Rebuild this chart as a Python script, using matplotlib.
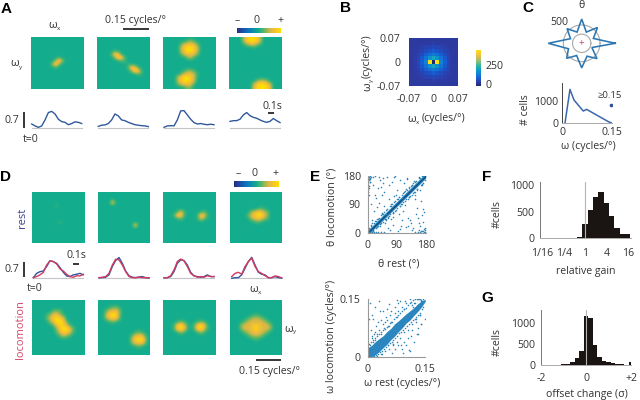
import numpy as np
import matplotlib
matplotlib.use("Agg")
import matplotlib.pyplot as plt
from matplotlib.lines import Line2D
from matplotlib.colors import LinearSegmentedColormap, Normalize
from matplotlib.cm import ScalarMappable

plt.rcParams['font.family'] = ['Open Sans', 'DejaVu Sans']
plt.rcParams['font.size'] = 7.6
plt.rcParams['text.color'] = '#333333'
plt.rcParams['xtick.color'] = '#333333'
plt.rcParams['ytick.color'] = '#333333'

# ---------- data ----------
A1 = ["0"*16]*6 + ["0000000010000000", "0000000393000000", "0000003920000000", "0000000100000000"] + ["0"*16]*6
A2 = ["0"*16]*4 + ["0000010000000000", "0000286000000000", "0000039710000000", "0000000210000000",
      "0000000001000000", "0000000002861000", "0000000000397100", "0000000000002100"] + ["0"*16]*4
A3 = ["0"*16, "0000000231000000", "0000025665200000", "0000047997400000", "0000047997400000",
      "0000025665200000", "0000000341000000"] + ["0"*16]*3 + ["0000001331000000", "0000025664100000",
      "0000479974000000", "0000479974000000", "0000256651000000", "0000001320000000"]
A4 = ["0000479974000000", "0000489984000000", "0000135531000000", "0000000100000000"] + ["0"*16]*9 + [
      "0000000024420000", "0000000479974000", "0000000589985000"]
R1 = ["0"*16]*4 + ["0000000100000000"] + ["0"*16]*4 + ["0000000010000000"] + ["0"*16]*6
R2 = ["0"*16]*3 + ["0000700000000000"] + ["0"*16]*6 + ["0000000000070000"] + ["0"*16]*5
R3 = ["0"*16]*6 + ["0000261000012000", "0002871000186100", "0000120000152000"] + ["0"*16]*7
R4 = ["0"*16]*5 + ["0000000012100000", "0000003577430000", "0000025799630000",
      "0000003566320000", "0000000121000000"] + ["0"*16]*6
L1 = ["0"*16]*3 + ["0000002320000000", "0000136631000000", "0000257985000000", "0000036997200000",
      "0000002688510000", "0000000379962000", "0000000258751000", "0000000024310000",
      "0000000000000000"] + ["0"*16]*4
L2 = ["0"*16]*2 + ["0001231000000000", "0025664000000000", "0048993000000000", "0036773000000000",
      "0001210000000000"] + ["0"*16]*2 + ["0000000000012100", "0000000000256620", "0000000000489940",
      "0000000000366730", "0000000000012100"] + ["0"*16]*2
L3 = ["0"*16]*6 + ["0000121000121000", "0002795102796100", "0002896102895100", "0000131000131000"] + ["0"*16]*6
L4 = ["0"*16]*4 + ["0000000110000000", "0000013443100000", "0000245555420000", "0003556776553000",
      "0003556886553000", "0000245665420000", "0000013443100000", "0000000110000000"] + ["0"*16]*4

time_s = [0, .05, .1, .15, .2, .25, .3, .35, .4, .45, .5, .55, .6, .65, .7, .75]
trace_A1 = [.18, .10, .04, .10, .35, .66, .71, .60, .38, .28, .25, .15, .20, .27, .25, .20]
trace_A2 = [.08, .13, .14, .20, .35, .60, .52, .35, .32, .25, .20, .15, .13, .11, .10, .07]
trace_A3 = [.04, .10, .11, .10, .35, .73, .74, .56, .38, .24, .18, .20, .17, .15, .17, .15]
trace_A4 = [.29, .32, .32, .38, .56, .66, .53, .46, .42, .35, .29, .25, .29, .41, .32, .24]
rest_D1 = [.03, .23, .31, .34, .55, .82, .78, .70, .50, .28, .11, .08, .16, .19, .23, .16]
loco_D1 = [.03, .08, .16, .28, .62, .81, .78, .67, .44, .34, .19, .08, .05, .12, .11, .19]
rest_D2 = [.02, .03, .05, .16, .55, .83, .97, .70, .34, .12, .05, .03, .06, .08, .03, .02]
loco_D2 = [.03, .05, .08, .23, .62, .89, .86, .62, .31, .08, .03, .03, .05, .03, .03, .02]
rest_D3 = [.02, .03, .08, .31, .70, .86, .83, .62, .28, .11, .08, .05, .08, .16, .08, .08]
loco_D3 = [.02, .03, .12, .39, .78, .90, .81, .55, .23, .12, .05, .08, .05, .12, .08, .08]
rest_D4 = [.00, .03, .03, .16, .47, .78, .98, .62, .28, .19, .16, .03, .03, .08, .03, .02]
loco_D4 = [.08, .23, .28, .19, .55, .78, .94, .55, .31, .23, .12, .03, .03, .11, .08, .02]

density_half = [
    [45, 45, 45, 45, 45, 45, 45, 45, 45, 45, 45, 45, 45],
    [45, 45, 48, 48, 50, 50, 55, 50, 50, 48, 48, 45, 45],
    [45, 48, 50, 55, 60, 65, 70, 65, 60, 55, 50, 48, 45],
    [45, 50, 55, 62, 75, 85, 95, 85, 75, 62, 55, 50, 45],
    [45, 50, 60, 75, 100, 125, 140, 125, 100, 75, 60, 50, 45],
    [45, 52, 65, 90, 130, 175, 215, 175, 130, 90, 65, 52, 45],
    [45, 52, 68, 100, 150, 440, 5, 440, 150, 100, 68, 52, 45],
]
density = density_half + density_half[-2::-1]

star_deg = [0, 22.5, 45, 67.5, 90, 112.5, 135, 157.5, 180, 202.5, 225, 247.5, 270, 292.5, 315, 337.5, 360]
star_n = [915, 345, 610, 330, 660, 330, 565, 330, 910, 390, 580, 360, 670, 380, 590, 300, 915]

omega_x = [.008, .023, .035, .063, .073, .103, .138, .15]
omega_n = [0, 1520, 1045, 550, 625, 370, 75, 0]

theta_rest = [8,15,22,31,38,46,52,60,67,74,83,91,99,106,113,121,128,137,144,152,160,168,175,
              3,11,19,27,34,43,50,58,65,72,80,88,96,104,111,119,126,135,142,150,158,166,173,
              6,13,24,36,41,55,63,77,86,94,101,116,124,131,139,147,155,163,171,178,
              2,17,29,48,69,82,108,123,146,161,176,
              10,18,25,30,35,42,48,53,58,64,70,75,80,86,92,98,103,110,115,122,128,134,140,146,152,158,164,170,
              14,22,33,44,56,68,79,90,101,112,124,136,148,160,172,
              1,2,3,1,4,2,5,3,1,6,2,8,4,7,10,
              176,170,162,155,177,148,172,178,165,4,8,14,20,26,32,40,50,
              5,9,16,20,27,32,38,41,47,51,57,61,66,71,77,83,88,94,99,105,109,117,120,127,131,138,143,149,154,161,167,173,177,
              12,28,37,45,62,73,84,97,107,118,129,141,153,168]
theta_loco = [170,152,178,140,165,172,128,175,150,160,176,135,168,110,158,172,145,120,163,78,30,55,12,
              148,92,68,110,175,120,85,60,105,42,25,120,60,22,70,18,48,30,15,60,8,100,35,
              160,40,118,95,145,30,15,50,178,5,12,88,22,40,10,118,48,20,75,3,
              130,175,80,158,8,115,40,170,105,135,65,
              24,8,36,18,48,30,60,42,72,50,58,90,66,100,78,112,90,124,100,136,114,148,126,160,138,172,150,178,
              2,38,20,58,40,84,62,106,84,128,106,152,130,176,156,
              178,172,165,158,176,150,170,142,135,178,128,174,118,160,176,
              2,4,1,3,8,2,6,15,5,1,2,1,3,1,2,1,2,
              14,22,5,32,14,44,26,55,33,66,42,75,52,84,62,97,72,108,83,118,96,131,106,141,115,151,128,163,139,174,153,179,165,
              30,44,22,62,47,92,69,114,92,137,112,158,136,152]
theta_band_x = [0, 180]
theta_band_lo = [-8, 172]
theta_band_hi = [8, 188]
theta_core_lo = [-3, 177]
theta_core_hi = [3, 183]

omega_rest = [.005,.012,.018,.022,.03,.035,.04,.048,.055,.06,.07,.075,.085,.09,.1,.11,.12,.13,.14,.148,
              .008,.015,.025,.032,.045,.052,.065,.08,.095,.105,.115,.125,.135,.145,
              .01,.02,.028,.038,.05,.062,.072,.088,.098,.108,.118,.128,.138,
              .003,.006,.016,.042,.058,.078,.092,.112,.122,.132,.142,
              .01,.02,.03,.04,.05,.06,.07,.08,.09,.1,.11,.12,.13,.14,.145,
              .015,.025,.035,.045,.055,.065,.075,.085,.095,.105,.115,.125,.135,
              .015,.035,.055,.075,.095,.115,.135,
              .004,.007,.009,.012,.014,.017,.019,.022,.024,.027,.029,.032,.034,.037,.039,.042,.044,.047,.049,
              .052,.054,.057,.059,.062,.064,.067,.069,.072,.074,.077,.079,.082,.084,.087,.089,.092,.094,.097,.099,
              .102,.104,.107,.109,.112,.114,.117,.119,.122,.124,.127,.129,.132,.134,.137,.139,.142]
omega_loco = [.14,.11,.13,.08,.145,.095,.12,.105,.138,.12,.13,.148,.145,.02,.03,.015,.04,.06,.085,.1,
              .07,.1,.06,.12,.09,.03,.035,.14,.04,.05,.07,.09,.11,.13,
              .05,.045,.09,.008,.125,.01,.02,.03,.145,.018,.13,.06,.085,
              .1,.03,.06,.075,.11,.03,.01,.055,.14,.075,.145,
              .055,.065,.07,.085,.095,.09,.115,.12,.13,.14,.15,.14,.15,.145,.15,
              .0,.002,.008,.015,.022,.03,.04,.05,.065,.07,.085,.098,.11,
              .04,.065,.08,.105,.125,.135,.15,
              .035,.003,.04,.0,.045,.003,.05,.006,.055,.009,.06,.012,.06,.015,.07,.02,.072,.027,.078,
              .03,.08,.036,.088,.04,.09,.045,.1,.05,.103,.055,.108,.062,.115,.065,.12,.07,.125,.075,.128,
              .08,.135,.085,.14,.09,.142,.095,.148,.1,.15,.105,.15,.11,.15,.115,.148,.125]
omega_band_x = [0, .01, .02, .03, .04, .05, .06, .07, .08, .09, .1, .11, .12, .13, .14, .15]
omega_band_lo = [0, 0, .006, .014, .024, .033, .045, .054, .066, .076, .088, .096, .108, .118, .13, .145]
omega_band_hi = [.024, .03, .04, .048, .055, .066, .074, .086, .094, .103, .112, .12, .128, .138, .146, .15]

gain_bins = [-4, -3.5, -3, -2.5, -2, -1.5, -1, -.5, 0, .5, 1, 1.5, 2, 2.5, 3, 3.5, 4]
gain_counts = [6, 6, 6, 6, 6, 8, 10, 30, 260, 530, 780, 860, 670, 420, 190, 90, 75]
gain_ticks = [-4, -2, 0, 2, 4]
gain_labels = ['1/16', '1/4', '1', '4', '16']

offset_bins = [-2, -1.8, -1.6, -1.4, -1.2, -1, -.8, -.6, -.4, -.2, 0, .2, .4, .6, .8, 1, 1.2, 1.4, 1.6, 1.8, 2]
offset_counts = [5, 5, 5, 5, 10, 15, 25, 60, 160, 320, 1170, 1100, 480, 200, 100, 70, 40, 25, 15, 10, 75]

# ---------- layout helpers ----------
W, H = 640, 400
fig = plt.figure(figsize=(6.4, 4.0), dpi=100, facecolor='white')

def axpx(x0, y0, x1, y1, **kw):
    return fig.add_axes([x0 / W, 1 - y1 / H, (x1 - x0) / W, (y1 - y0) / H], **kw)

def T(x, y, s, ha='center', va='center', **kw):
    return fig.text(x / W, 1 - y / H, s, ha=ha, va=va, **kw)

def L(x0, y0, x1, y1, color='black', lw=1.1):
    fig.add_artist(Line2D([x0 / W, x1 / W], [1 - y0 / H, 1 - y1 / H], color=color, lw=lw,
                          solid_capstyle='butt'))

def sub(x, y, sym, s):
    T(x, y, sym, fontsize=8)
    T(x + 5.5, y + 3, s, fontsize=4.5)

def letter(x, y, s):
    T(x, y, s, ha='left', fontsize=11, fontweight='bold', family=['Liberation Sans'], color='black')

cmap_map = LinearSegmentedColormap.from_list('map', [
    (0, '#2b2a85'), (.25, '#0a70c0'), (.5, '#12ad8e'), (.62, '#62b763'),
    (.75, '#d2b848'), (.85, '#f2bf35'), (1, '#ffe000')])
map_norm = Normalize(-1, 1)
parula = LinearSegmentedColormap.from_list('parula', [
    '#1c2a70', '#2f3ba5', '#1560d8', '#1282d4', '#0aa2c8', '#2eb7a4', '#87bf77', '#d1bb59', '#fec832', '#f9e80e'])

def heat(rows, x0, y0, x1, y1):
    ax = axpx(x0, y0, x1, y1)
    arr = np.array([[int(c) / 9 for c in r] for r in rows])
    ax.imshow(arr, cmap=cmap_map, norm=map_norm, interpolation='bicubic', aspect='auto')
    ax.axis('off')

def cbar(x0, y0, x1, y1, cmap, norm, orient):
    cax = axpx(x0, y0, x1, y1)
    cb = fig.colorbar(ScalarMappable(norm=norm, cmap=cmap), cax=cax, orientation=orient)
    cb.set_ticks([])
    cb.outline.set_visible(False)

def trace(x0, base_y, h_scale, vmax_px, series):
    ax = axpx(x0, base_y - vmax_px, x0 + 50, base_y)
    ax.set_xlim(0, .75)
    ax.set_ylim(0, vmax_px / h_scale * .7)
    ax.axhline(0, color='#c4c4c8', lw=.8, clip_on=False)
    for vals, col in series:
        ax.plot(time_s, vals, color=col, lw=1.0, solid_joinstyle='round', clip_on=False)
    ax.axis('off')

BLUE, RED = '#30589c', '#d23a60'

# ---------- A ----------
letter(1, 9, 'A')
for rows, (x0, x1) in zip([A1, A2, A3, A4], [(30.5, 83), (97, 149.5), (162.5, 215), (229, 281.5)]):
    heat(rows, x0, 37, x1, 89.5)
sub(53, 26, 'ω', 'x')
sub(15, 64, 'ω', 'y')
T(135.7, 20, '0.15 cycles/°')
L(123.3, 29.3, 149, 29.3)
cbar(236.7, 27.7, 281, 33.3, cmap_map, map_norm, 'horizontal')
T(237, 20.7, '–'); T(257, 20.7, '0'); T(280.7, 20.7, '+')
for x0, vals in zip([31.7, 98.3, 164, 230], [trace_A1, trace_A2, trace_A3, trace_A4]):
    trace(x0, 128.3, 16.7, 28, [(vals, BLUE)])
T(11.7, 120.7, '0.7')
L(24, 111.7, 24, 128.3)
T(30.7, 140, 't=0')
T(272.7, 106.7, '0.1s')
L(267.7, 113.3, 274.3, 113.3)

# ---------- D ----------
letter(0, 177, 'D')
letter(310, 177, 'E')
xs_D = [(31.5, 84), (98, 150), (163, 215.5), (229.5, 281.5)]
for rows, (x0, x1) in zip([R1, R2, R3, R4], xs_D):
    heat(rows, x0, 191.7, x1, 243.3)
for rows, (x0, x1) in zip([L1, L2, L3, L4], xs_D):
    heat(rows, x0, 300, x1, 355)
cbar(234.3, 180.7, 278.7, 186.7, cmap_map, map_norm, 'horizontal')
T(238.3, 173.3, '–'); T(255, 173.3, '0'); T(275.7, 173.3, '+')
T(22.7, 218.3, 'rest', rotation=90, color='#3c3f8f', fontsize=8)
T(20.7, 329.3, 'locomotion', rotation=90, color='#d6476b', fontsize=8)
for x0, r, l in zip([33.3, 99, 164, 231.7], [rest_D1, rest_D2, rest_D3, rest_D4],
                    [loco_D1, loco_D2, loco_D3, loco_D4]):
    trace(x0, 278.3, 15, 28, [(r, BLUE), (l, RED)])
T(76, 255.7, '0.1s')
L(72.7, 264.3, 79.3, 264.3)
T(11.7, 269.3, '0.7')
L(24, 261.7, 24, 276.7)
T(34.3, 288.3, 't=0')
sub(254, 290, 'ω', 'x')
sub(289, 329, 'ω', 'y')
L(255.7, 359.7, 281, 359.7)
T(269.3, 371.7, '0.15 cycles/°')

# ---------- B ----------
letter(340, 8, 'B')
ax = axpx(409, 37.7, 457.5, 85.7)
ax.imshow(np.array(density), cmap=parula, vmin=0, vmax=450, interpolation='nearest',
          extent=[-.07, .07, -.07, .07], aspect='auto')
ax.set_xticks([-.07, 0, .07], ['-0.07', '0', '0.07'])
ax.set_yticks([-.07, 0, .07], ['-0.07', '0', '0.07'])
ax.tick_params(length=0, pad=6)
for s in ax.spines.values():
    s.set_visible(False)
cbar(476.3, 49.5, 480.7, 86, parula, Normalize(0, 450), 'vertical')
T(485, 66.3, '250', ha='left')
T(485, 85.7, '0', ha='left')
T(367.5, 87, 'ω', rotation=90, fontsize=8)
T(372, 80, 'y', fontsize=4.5, rotation=90)
T(367.5, 56, '(cycles/°)', rotation=90)
T(411.7, 119, 'ω', fontsize=8)
T(417, 122, 'x', fontsize=4.5)
T(443, 119, '(cycles/°)')

# ---------- C ----------
letter(522, 8, 'C')
ax = axpx(581.7 - 36.7, 43.3 - 36.7, 581.7 + 36.7, 43.3 + 36.7, projection='polar')
ax.patch.set_alpha(0)
circle_t = np.linspace(0, 2 * np.pi, 120)
ax.plot(circle_t, [500] * 120, color='#a8a8a8', lw=.8)
ax.plot(circle_t, [250] * 120, color='#a8a8a8', lw=.8)
ax.plot(np.deg2rad(star_deg), star_n, color='#2b77b3', lw=1.15, solid_joinstyle='miter')
ax.set_rlim(0, 1000)
ax.grid(False)
ax.set_xticks([]); ax.set_yticks([])
ax.spines['polar'].set_visible(False)
T(581.7, 43.3, '+', color='#c8416e', fontsize=7)
T(581.7, 5, 'θ')
T(559.3, 22.7, '500')

ax = axpx(562.3, 83.3, 612.3, 123.3)
ax.plot(omega_x, omega_n, color='#3a68ad', lw=1.1)
ax.plot([.147], [820], 'o', color='#2d4f9a', ms=1.6)
ax.set_xlim(0, .15); ax.set_ylim(0, 1794)
ax.set_xticks([0, .15], ['0', '0.15'])
ax.set_yticks([0, 1000], ['0', '1000'])
ax.tick_params(length=0, pad=3)
ax.spines[['top', 'right']].set_visible(False)
ax.spines['left'].set_color('#444444'); ax.spines['bottom'].set_color('#aaaaaa')
ax.spines['left'].set_linewidth(.7); ax.spines['bottom'].set_linewidth(.7)
T(610, 96, '≥0.15', fontsize=6.8)
T(525.7, 109.3, '# cells', rotation=90)
T(588.3, 146.7, 'ω (cycles/°)')

# ---------- E ----------
def style_scatter(ax):
    ax.spines[['top', 'right']].set_visible(False)
    ax.spines['left'].set_color('#999999'); ax.spines['bottom'].set_color('#999999')
    ax.tick_params(length=0, pad=5)

ax = axpx(367.7, 175.7, 425.7, 232.7)
ax.fill_between(theta_band_x, theta_band_lo, theta_band_hi, color='#2b86c0', lw=0)
ax.fill_between(theta_band_x, theta_core_lo, theta_core_hi, color='#0f4e7e', lw=0)
ax.scatter(theta_rest, theta_loco, s=1.3, color='#2b86b8', lw=0)
ax.set_xlim(0, 180); ax.set_ylim(0, 180)
ax.set_xticks([0, 90, 180]); ax.set_yticks([0, 90, 180])
style_scatter(ax)
T(331.7, 206.7, 'θ locomotion (°)', rotation=90)
T(398.3, 264, 'θ rest (°)')

ax = axpx(367.7, 299.3, 425.3, 357)
ax.fill_between(omega_band_x, omega_band_lo, omega_band_hi, color='#2b86c0', lw=0)
ax.scatter(omega_rest, omega_loco, s=1.3, color='#2b86b8', lw=0)
ax.set_xlim(0, .15); ax.set_ylim(0, .15)
ax.set_xticks([0, .15], ['0', '0.15']); ax.set_yticks([0, .15], ['0', '0.15'])
style_scatter(ax)
T(331.7, 336.7, 'ω locomotion (cycles/°)', rotation=90)
T(402.3, 383.3, 'ω rest (cycles/°)')

# ---------- F / G ----------
def style_hist(ax):
    ax.spines[['top', 'right']].set_visible(False)
    ax.spines['left'].set_color('#777777'); ax.spines['bottom'].set_color('#aaaaaa')
    ax.spines['left'].set_linewidth(.7); ax.spines['bottom'].set_linewidth(.7)
    ax.tick_params(length=0, pad=4)

letter(482, 177, 'F')
ax = axpx(540, 181.7, 630.7, 238.3)
ax.bar(gain_bins, gain_counts, width=.5, color='#1a1513', lw=0)
ax.axvline(0, color='#b5b5b5', lw=.8)
ax.set_xlim(-4.22, 4.28); ax.set_ylim(0, 1062)
ax.set_xticks(gain_ticks, gain_labels)
ax.set_yticks([0, 500, 1000])
style_hist(ax)
ax.tick_params(axis='x', pad=7)
T(497.7, 214, '#cells', rotation=90)
T(585.7, 271.7, 'relative gain')

letter(481, 298, 'G')
ax = axpx(541, 310, 631, 365)
ax.bar(offset_bins, offset_counts, width=.2, color='#1a1513', lw=0)
ax.axvline(0, color='#b5b5b5', lw=.8)
ax.set_xlim(-2, 2); ax.set_ylim(0, 1300)
ax.set_xticks([-2, 0, 2], ['-2', '0', '+2'])
ax.set_yticks([0, 500, 1000])
style_hist(ax)
ax.tick_params(axis='x', pad=6)
T(497.3, 341.7, '#cells', rotation=90)
T(586.7, 394, 'offset change (σ)')

fig.savefig('out.png', dpi=100)
